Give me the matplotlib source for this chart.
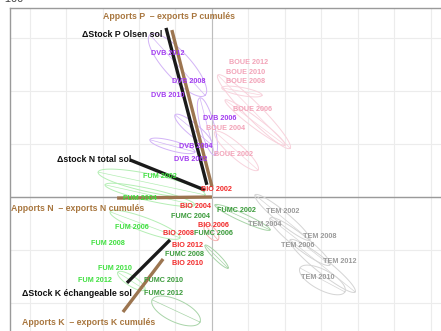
import numpy as np
import matplotlib
matplotlib.use("Agg")
import matplotlib.pyplot as plt

# ---------------- data ----------------
years = [2002, 2004, 2006, 2008, 2010, 2012]

dvb_x = [-0.58, -0.44, 0.22, -0.63, -1.21, -1.21]
dvb_y = [0.70, 0.96, 1.49, 2.17, 1.91, 2.70]
boue_x = [0.60, 0.38, 1.10, 0.93, 0.93, 0.99]
boue_y = [0.81, 1.30, 1.66, 2.17, 2.34, 2.53]
bio_x = [0.11, -0.44, 0.03, -0.93, -0.66, -0.68]
bio_y = [0.15, -0.17, -0.53, -0.68, -1.26, -0.92]
fumc_x = [0.68, -0.58, 0.03, -0.74, -1.34, -1.34]
fumc_y = [-0.25, -0.36, -0.68, -1.08, -1.58, -1.83]
fum_x = [-1.42, -1.97, -2.19, -2.85, -2.66, -3.21]
fum_y = [0.38, -0.02, -0.58, -0.87, -1.34, -1.58]
tem_x = [1.95, 1.45, 2.36, 2.96, 2.90, 3.51]
tem_y = [-0.28, -0.51, -0.92, -0.74, -1.51, -1.21]

group_names = ["DVB", "BOUE", "BIO", "FUMC", "FUM", "TEM"]
group_x = [dvb_x, boue_x, bio_x, fumc_x, fum_x, tem_x]
group_y = [dvb_y, boue_y, bio_y, fumc_y, fum_y, tem_y]

# variable vectors (tail -> head) and label positions (left edge)
vec_labels = ["Apports P  \u2013 exports P cumulés", "\u0394Stock P Olsen sol",
              "\u0394stock N total sol", "Apports N  \u2013 exports N cumulés",
              "\u0394Stock K échangeable sol", "Apports K  \u2013 exports K cumulés"]
vec_x0 = [0.00, -0.14, -0.19, 0.00, -1.15, -1.34]
vec_y0 = [0.19, 0.23, 0.13, 0.00, -0.81, -1.17]
vec_x1 = [-1.10, -1.26, -2.25, -2.60, -2.33, -2.44]
vec_y1 = [3.15, 3.19, 0.70, -0.02, -1.62, -2.17]
vec_lab_x = [-2.99, -3.56, -4.25, -5.50, -5.21, -5.21]
vec_lab_y = [3.40, 3.06, 0.70, -0.21, -1.83, -2.36]
vec_kind = ["apport", "stock", "stock", "apport", "stock", "apport"]

# confidence ellipses: group, end1 (x,y), end2 (x,y), half-width (px)
ell_group = ["DVB", "DVB", "DVB", "DVB", "BOUE", "BOUE", "BOUE", "BOUE",
             "FUM", "FUM", "FUM", "FUM", "FUMC", "FUMC", "FUMC", "BIO",
             "TEM", "TEM", "TEM", "TEM"]
ell_x1 = [-1.70, -1.01, -1.70, -0.33, 0.16, 0.36, 0.08, 0.27,
          -3.12, -2.93, -2.79, -2.58, -1.64, 0.08, -0.19, -0.19,
          1.18, 1.59, 2.14, 2.41]
ell_y1 = [3.06, 1.55, 1.08, 1.87, 2.30, 1.83, 1.23, 2.06,
          0.47, 0.23, -0.28, -1.42, -1.94, -0.15, -0.91, -0.53,
          0.04, -0.40, -0.81, -1.34]
ell_x2 = [-0.19, 0.00, -0.47, 0.08, 2.14, 2.00, 1.26, 1.37,
          -0.19, -0.47, -0.88, -1.84, -0.33, 1.59, 0.44, 0.16,
          2.68, 3.23, 3.92, 3.64]
ell_y2 = [1.92, 0.98, 0.85, 0.79, 0.92, 0.98, 0.51, 1.92,
          0.04, -0.15, -0.77, -1.75, -2.36, -0.62, -1.34, -0.81,
          -0.81, -1.28, -1.79, -1.79]
ell_w = [13, 6, 5, 7, 8, 5, 7, 4,
         9, 6, 7, 5, 11, 4, 3, 5,
         6, 7, 7, 10]

# ---------------- style ----------------
label_col = {"DVB": "#a23cf0", "BOUE": "#f2a3b8", "BIO": "#f22a2a",
             "FUMC": "#3a9a3a", "FUM": "#3fe03f", "TEM": "#9a9a9a"}
ell_col = {"DVB": "#d2b3f7", "BOUE": "#f8d2dc", "BIO": "#f7b0b0",
           "FUMC": "#a8d4a8", "FUM": "#b4eeb4", "TEM": "#d4d4d4"}
plt.rcParams["font.family"] = ["Liberation Sans", "DejaVu Sans"]

W, H = 441, 331
fig = plt.figure(figsize=(W / 100, H / 100), dpi=100)
SX, SY = 36.5, 53.0   # px per unit
px_left, px_right, py_top, py_bot = 10, 470, 8, 360
x0px, y0px = 212, 197
ax = fig.add_axes([px_left / W, (H - py_bot) / H,
                   (px_right - px_left) / W, (py_bot - py_top) / H])
ax.set_xlim((px_left - x0px) / SX, (px_right - x0px) / SX)
ax.set_ylim((y0px - py_bot) / SY, (y0px - py_top) / SY)
ax.set_xticks(np.arange(-5, 8))
ax.set_yticks(np.arange(-3, 4))
ax.tick_params(length=0, labelbottom=False, labelleft=False)
ax.grid(True, color="#ececec", lw=0.8)
ax.set_axisbelow(True)
for s in ["left", "top"]:
    ax.spines[s].set_color("#9a9a9a")
    ax.spines[s].set_linewidth(1.0)
ax.axhline(0, color="#9a9a9a", lw=1.0, zorder=1)
ax.axvline(0, color="#bdbdbd", lw=0.8, zorder=1)

# ellipses
t = np.linspace(0, 2 * np.pi, 100)
for g, a1, b1, a2, b2, w in zip(ell_group, ell_x1, ell_y1, ell_x2, ell_y2, ell_w):
    p1 = np.array([a1 * SX, b1 * SY])
    p2 = np.array([a2 * SX, b2 * SY])
    c = (p1 + p2) / 2
    d = p2 - p1
    L = np.hypot(*d) / 2
    u = d / (2 * L)
    v = np.array([-u[1], u[0]])
    pts = c[:, None] + np.outer(u, L * np.cos(t)) + np.outer(v, w * np.sin(t))
    ax.plot(pts[0] / SX, pts[1] / SY, color=ell_col[g], lw=0.7, zorder=2)
    ax.plot([p1[0] / SX, p2[0] / SX], [p1[1] / SY, p2[1] / SY],
            color=ell_col[g], lw=0.5, zorder=2)

# vectors
for lab, xa, ya, xb, yb, lx, ly, k in zip(vec_labels, vec_x0, vec_y0, vec_x1,
                                          vec_y1, vec_lab_x, vec_lab_y, vec_kind):
    col = "#1a1a1a" if k == "stock" else "#9c7550"
    ax.plot([xa, xb], [ya, yb], color=col, lw=2.4, solid_capstyle="butt", zorder=4)
    tcol = "#111111" if k == "stock" else "#a8763e"
    ax.text(lx, ly, lab, color=tcol, fontsize=6.3, fontweight="bold",
            ha="left", va="center", zorder=6)

# sample labels
for g, xs, ys in zip(group_names, group_x, group_y):
    for yr, x, y in zip(years, xs, ys):
        ax.text(x, y, f"{g} {yr}", color=label_col[g], fontsize=5.2,
                fontweight="bold", ha="center", va="center", zorder=7)

fig.text(2 / W, 1 + 1 / H, "-100", fontsize=8, color="#444444",
         ha="left", va="center")

fig.savefig("out.png", dpi=100)
